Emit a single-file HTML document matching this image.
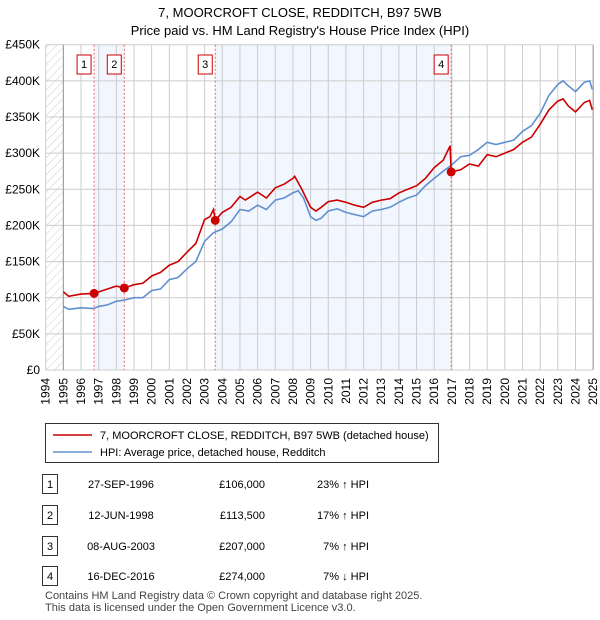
<!DOCTYPE html>
<html><head><meta charset="utf-8"><style>
body{margin:0;background:#fff;font-family:"Liberation Sans","DejaVu Sans",sans-serif;}
#wrap{position:relative;width:600px;height:620px;overflow:hidden;}
</style></head><body>
<div id="wrap">
<svg id="chart" width="600" height="620" style="position:absolute;left:0;top:0"></svg>
</div>
<script>
const years=[1994,1995,1996,1997,1998,1999,2000,2001,2002,2003,2004,2005,2006,2007,2008,2009,2010,2011,2012,2013,2014,2015,2016,2017,2018,2019,2020,2021,2022,2023,2024,2025];
const yTicks=[0,50,100,150,200,250,300,350,400,450];
const yTickLabels=["£0","£50K","£100K","£150K","£200K","£250K","£300K","£350K","£400K","£450K"];
const hpiT=[1995,1995.3,1996,1996.7,1997,1997.5,1998,1998.5,1999,1999.5,2000,2000.5,2001,2001.5,2002,2002.5,2003,2003.5,2004,2004.5,2005,2005.5,2006,2006.5,2007,2007.5,2008,2008.3,2008.6,2009,2009.3,2009.6,2010,2010.5,2011,2011.5,2012,2012.5,2013,2013.5,2014,2014.5,2015,2015.5,2016,2016.5,2016.96,2017.5,2018,2018.5,2019,2019.5,2020,2020.5,2021,2021.5,2022,2022.5,2023,2023.3,2023.6,2024,2024.5,2024.8,2024.95];
const hpiV=[88,84,86,85,88,90,95,97,100,100,110,112,125,128,140,150,178,190,195,205,222,220,228,222,235,238,245,248,238,212,207,210,220,223,218,215,212,220,222,225,232,238,242,255,265,275,283,295,297,305,315,312,315,318,330,338,355,380,395,400,393,385,398,400,388];
const redT=[1995,1995.3,1996,1996.74,1997,1997.5,1998,1998.45,1999,1999.5,2000,2000.5,2001,2001.5,2002,2002.5,2003,2003.3,2003.5,2003.6,2004,2004.5,2005,2005.3,2006,2006.5,2007,2007.5,2008,2008.1,2008.5,2009,2009.3,2009.6,2010,2010.5,2011,2011.5,2012,2012.5,2013,2013.5,2014,2014.5,2015,2015.5,2016,2016.5,2016.9,2016.96,2017.5,2018,2018.5,2019,2019.5,2020,2020.5,2021,2021.5,2022,2022.5,2023,2023.3,2023.6,2024,2024.5,2024.8,2024.95];
const redV=[108,102,105,106,108,112,116,113.5,118,120,130,135,145,150,163,175,208,212,222,207,218,225,240,235,246,238,252,257,265,268,250,225,220,225,233,235,232,228,225,232,235,237,245,250,255,265,280,290,310,274,277,285,282,298,295,300,305,315,322,340,360,372,375,365,357,370,373,360];
const saleT=[1996.74,1998.45,2003.6,2016.96];
const saleV=[106,113.5,207,274];
const saleDate=["27-SEP-1996","12-JUN-1998","08-AUG-2003","16-DEC-2016"];
const salePrice=["£106,000","£113,500","£207,000","£274,000"];
const saleRel=["23% ↑ HPI","17% ↑ HPI","7% ↑ HPI","7% ↓ HPI"];

const X0=45.7,PX=17.66,Y0=370,PY=325.3/450;
const xs=t=>X0+(t-1994)*PX, ys=v=>Y0-v*PY;
const NS="http://www.w3.org/2000/svg";
const svg=document.getElementById('chart');
function mk(tag,attrs,parent){const e=document.createElementNS(NS,tag);for(const k in attrs)e.setAttribute(k,attrs[k]);(parent||svg).appendChild(e);return e;}
function txt(s,attrs){const e=mk('text',Object.assign({'font-family':'Liberation Sans, DejaVu Sans, sans-serif','font-size':12},attrs));e.textContent=s;return e;}

let e=txt("7, MOORCROFT CLOSE, REDDITCH, B97 5WB",{x:300,y:17,'text-anchor':'middle','font-size':13});

e=txt("Price paid vs. HM Land Registry's House Price Index (HPI)",{x:300,y:35,'text-anchor':'middle','font-size':13});


const defs=mk('defs',{});
const pat=mk('pattern',{id:'hatch',width:6,height:6,patternUnits:'userSpaceOnUse',patternTransform:'rotate(45)'},defs);
mk('line',{x1:0,y1:0,x2:0,y2:6,stroke:'#ccc','stroke-width':1},pat);
e=mk('rect',{x:xs(1994),y:ys(450),width:xs(1995)-xs(1994),height:Y0-ys(450),fill:'url(#hatch)'});

[[0,1],[2,3]].forEach(([a,b])=>{const r=mk('rect',{x:xs(saleT[a]),y:ys(450),width:xs(saleT[b])-xs(saleT[a]),height:Y0-ys(450),fill:'#f2f6fe'});
});

years.forEach(y=>{const l=mk('line',{x1:xs(y),x2:xs(y),y1:ys(450),y2:Y0,stroke:'#ccc','stroke-width':1});

const t=txt(String(y),{transform:`translate(${xs(y)+4},${Y0+8}) rotate(-90)`,'text-anchor':'end','font-size':12});
});
yTicks.forEach((v,i)=>{const l=mk('line',{x1:xs(1994),x2:xs(2025),y1:ys(v),y2:ys(v),stroke:'#ccc','stroke-width':1});

const t=txt(yTickLabels[i],{x:40,y:ys(v)+4,'text-anchor':'end','font-size':12});
});
e=mk('line',{x1:xs(1995),x2:xs(1995),y1:ys(450),y2:Y0,stroke:'#999'});
e=mk('line',{x1:xs(2025),x2:xs(2025),y1:ys(450),y2:Y0,stroke:'#999'});

saleT.forEach((t,i)=>{const l=mk('line',{x1:xs(t),x2:xs(t),y1:ys(450),y2:Y0,stroke:'#e66','stroke-width':1,'stroke-dasharray':'2,2'});

const g=mk('g',{});
mk('rect',{x:xs(t)-17,y:55,width:14,height:19,fill:'#fff',stroke:'#c00'},g);
const tt=mk('text',{x:xs(t)-10,y:68,'text-anchor':'middle','font-size':11,'font-family':'Liberation Sans, sans-serif'},g);tt.textContent=String(i+1);});

function line(T,V,col,name){const d=T.map((t,i)=>(i?'L':'M')+xs(t).toFixed(1)+','+ys(V[i]).toFixed(1)).join('');
const p=mk('path',{d:d,fill:'none',stroke:col,'stroke-width':1.6});}
line(hpiT,hpiV,'#6090d0','hpi-line');
line(redT,redV,'#cc0000','price-paid-line');
saleT.forEach((t,i)=>{const c=mk('circle',{cx:xs(t),cy:ys(saleV[i]),r:4.5,fill:'#cc0000'});
});

const lg=mk('g',{});
mk('rect',{x:45.5,y:423.5,width:393,height:39,fill:'#fff',stroke:'#333'},lg);
mk('line',{x1:53,x2:92,y1:435,y2:435,stroke:'#cc0000','stroke-width':1.6},lg);
mk('line',{x1:53,x2:92,y1:452,y2:452,stroke:'#6090d0','stroke-width':1.6},lg);
e=txt("7, MOORCROFT CLOSE, REDDITCH, B97 5WB (detached house)",{x:100,y:439,'font-size':11});lg.appendChild(e);
e=txt("HPI: Average price, detached house, Redditch",{x:100,y:456,'font-size':11});lg.appendChild(e);

const rowY=[484,515,546,576];
saleT.forEach((t,i)=>{const g=mk('g',{});
const y=rowY[i];
mk('rect',{x:42.5,y:y-9.5,width:15,height:19,fill:'#fff',stroke:'#333'},g);
let a=mk('text',{x:50,y:y+4,'text-anchor':'middle','font-size':11,'font-family':'Liberation Sans, sans-serif'},g);a.textContent=String(i+1);
a=mk('text',{x:121,y:y+4,'text-anchor':'middle','font-size':11,'font-family':'Liberation Sans, sans-serif'},g);a.textContent=saleDate[i];
a=mk('text',{x:265,y:y+4,'text-anchor':'end','font-size':11,'font-family':'Liberation Sans, sans-serif'},g);a.textContent=salePrice[i];
a=mk('text',{x:369,y:y+4,'text-anchor':'end','font-size':11,'font-family':'Liberation Sans, sans-serif'},g);a.textContent=saleRel[i];});

e=txt("Contains HM Land Registry data © Crown copyright and database right 2025.",{x:45,y:599,'font-size':11,fill:'#444'});
e=txt("This data is licensed under the Open Government Licence v3.0.",{x:45,y:611,'font-size':11,fill:'#444'});
</script>
</body></html>
